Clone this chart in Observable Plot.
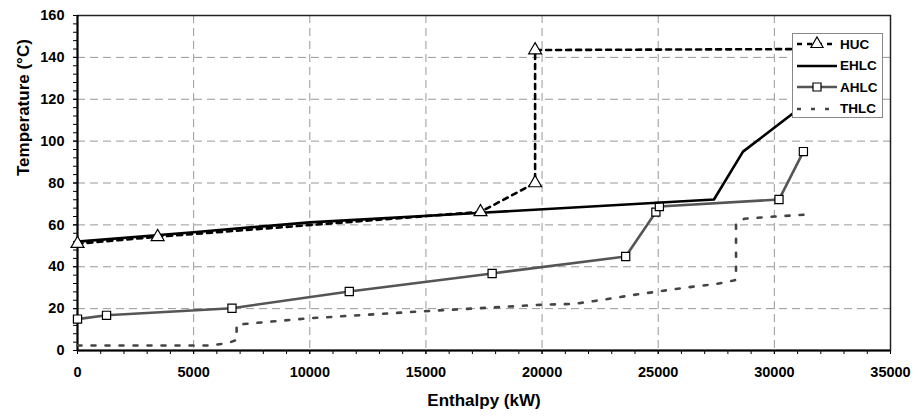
<!DOCTYPE html>
<html>
<head>
<meta charset="utf-8">
<script src="https://cdn.jsdelivr.net/npm/d3@7"></script>
<script src="https://cdn.jsdelivr.net/npm/@observablehq/plot@0.6"></script>
<style>
  body { margin: 0; background: #fff; }
  #wrap { position: relative; width: 918px; height: 416px; font-family: "Liberation Sans", Arial, sans-serif; }
  #legend { position: absolute; left: 792px; top: 33px; width: 91px; height: 85px; border: 1px solid #888; background: #fff; box-sizing: border-box; }
  .lg { position: absolute; left: 0; height: 20px; display: flex; align-items: center; }
  .lg span { font-weight: bold; font-size: 13.5px; margin-left: 1px; }
</style>
</head>
<body>
<div id="wrap"></div>
<script>
// Tick values
const xTicks = [0, 5000, 10000, 15000, 20000, 25000, 30000, 35000];
const yTicks = [0, 20, 40, 60, 80, 100, 120, 140, 160];
const xTitle = "Enthalpy (kW)";
const yTitle = "Temperature (°C)";

// HUC (hot utility curve)
const hucX = [0, 3450, 17350, 19700, 19700, 32000];
const hucT = [51, 54.3, 66.2, 80, 143.5, 144];
const hucMarked = [true, true, true, true, true, false];

// EHLC
const ehlcX = [0, 5000, 10000, 17400, 27400, 28650, 31300];
const ehlcT = [52, 56.5, 61.2, 65.8, 72.1, 95, 117.5];

// AHLC
const ahlcX = [0, 1250, 6650, 11700, 17850, 23600, 24900, 25050, 30200, 31250];
const ahlcT = [15, 16.8, 20.2, 28.2, 36.8, 44.9, 66.1, 68.8, 72.1, 95];

// THLC
const thlcX = [0, 5700, 6450, 6850, 6850, 7500, 10000, 11900, 15000, 19900, 21400, 22600, 23800, 25000, 26300, 27500, 28250, 28350, 28350, 28700, 30000, 31250];
const thlcT = [2.4, 2.4, 3.5, 5, 12.3, 13, 15.4, 16.7, 18.8, 21.8, 22.3, 24.2, 26.3, 28.2, 30.2, 31.8, 33.4, 33.8, 60.5, 62.9, 64, 64.8];

const toRows = (xs, ts) => xs.map((x, i) => ({x, t: ts[i], i}));
const huc = toRows(hucX, hucT);
const ehlc = toRows(ehlcX, ehlcT);
const ahlc = toRows(ahlcX, ahlcT);
const thlc = toRows(thlcX, thlcT);

const xMinor = d3.range(0, 35001, 1000);
const yMinor = d3.range(0, 161, 4);

const grid = {stroke: "#999", strokeOpacity: 1, strokeWidth: 1, strokeDasharray: "8,5"};

const chart = Plot.plot({
  width: 918,
  height: 416,
  marginLeft: 77,
  marginRight: 28,
  marginTop: 15,
  marginBottom: 66,
  x: {domain: [0, 35000], label: null},
  y: {domain: [0, 160], label: null},
  style: {fontFamily: "'Liberation Sans', Arial, sans-serif", fontWeight: "bold", fontSize: "14.5px", color: "#000", background: "#fff"},
  marks: [
    Plot.gridX(xTicks, grid),
    Plot.gridY(yTicks, grid),
    Plot.axisX(xMinor, {tickSize: 4, tickFormat: () => "", label: null, strokeWidth: 1}),
    Plot.axisY(yMinor, {tickSize: 4, tickFormat: () => "", label: null, strokeWidth: 1}),
    Plot.axisX(xTicks, {tickSize: 4, tickPadding: 12, tickFormat: "d", label: null}),
    Plot.axisY(yTicks, {tickSize: 4, tickPadding: 9, tickFormat: "d", label: null}),
    Plot.text([xTitle], {frameAnchor: "bottom", dy: 55, fontSize: 17, fontWeight: "bold", fill: "#000"}),
    Plot.text([yTitle], {frameAnchor: "left", rotate: -90, dx: -54, dy: -7, fontSize: 17, fontWeight: "bold", fill: "#000"}),
    Plot.frame({stroke: "#222", strokeWidth: 1.5}),
    Plot.ruleX([0], {stroke: "#000", strokeWidth: 2}),
    Plot.ruleY([0], {stroke: "#000", strokeWidth: 2}),
    Plot.line(thlc, {x: "x", y: "t", stroke: "#444", strokeWidth: 2.6, strokeDasharray: "4,10"}),
    Plot.line(ahlc, {x: "x", y: "t", stroke: "#555", strokeWidth: 2.6}),
    Plot.dot(ahlc, {x: "x", y: "t", symbol: "square", r: 4.6, fill: "#fff", stroke: "#000", strokeWidth: 1.2}),
    Plot.line(ehlc, {x: "x", y: "t", stroke: "#000", strokeWidth: 2.6}),
    Plot.line(huc, {x: "x", y: "t", stroke: "#000", strokeWidth: 2.6, strokeDasharray: "5,5"}),
    Plot.dot(huc.filter(d => hucMarked[d.i]), {x: "x", y: "t", symbol: "triangle", r: 4.8, fill: "#fff", stroke: "#000", strokeWidth: 1.2})
  ]
});

const wrap = document.getElementById("wrap");
wrap.appendChild(chart);

// Legend overlay
const legendItems = [
  {name: "HUC", stroke: "#000", dash: "5,5", symbol: "triangle"},
  {name: "EHLC", stroke: "#000", dash: null, symbol: null},
  {name: "AHLC", stroke: "#555", dash: null, symbol: "square"},
  {name: "THLC", stroke: "#444", dash: "4,10", symbol: null}
];
const legend = document.createElement("div");
legend.id = "legend";
legendItems.forEach((it, k) => {
  const row = document.createElement("div");
  row.className = "lg";
  row.style.top = (0 + k * 21.5) + "px";
  const ns = "http://www.w3.org/2000/svg";
  const s = document.createElementNS(ns, "svg");
  s.setAttribute("width", 46); s.setAttribute("height", 20);
  const l = document.createElementNS(ns, "line");
  l.setAttribute("x1", 4); l.setAttribute("x2", 44); l.setAttribute("y1", 10); l.setAttribute("y2", 10);
  l.setAttribute("stroke", it.stroke); l.setAttribute("stroke-width", 2.6);
  if (it.dash) l.setAttribute("stroke-dasharray", it.dash);
  s.appendChild(l);
  if (it.symbol) {
    const p = document.createElementNS(ns, "path");
    p.setAttribute("d", d3.symbol(it.symbol === "square" ? d3.symbolSquare : d3.symbolTriangle, 64)());
    p.setAttribute("transform", "translate(24,10)");
    p.setAttribute("fill", "#fff"); p.setAttribute("stroke", "#000"); p.setAttribute("stroke-width", 1.2);
    s.appendChild(p);
  }
  row.appendChild(s);
  const t = document.createElement("span");
  t.textContent = it.name;
  row.appendChild(t);
  legend.appendChild(row);
});
wrap.appendChild(legend);
</script>
</body>
</html>
